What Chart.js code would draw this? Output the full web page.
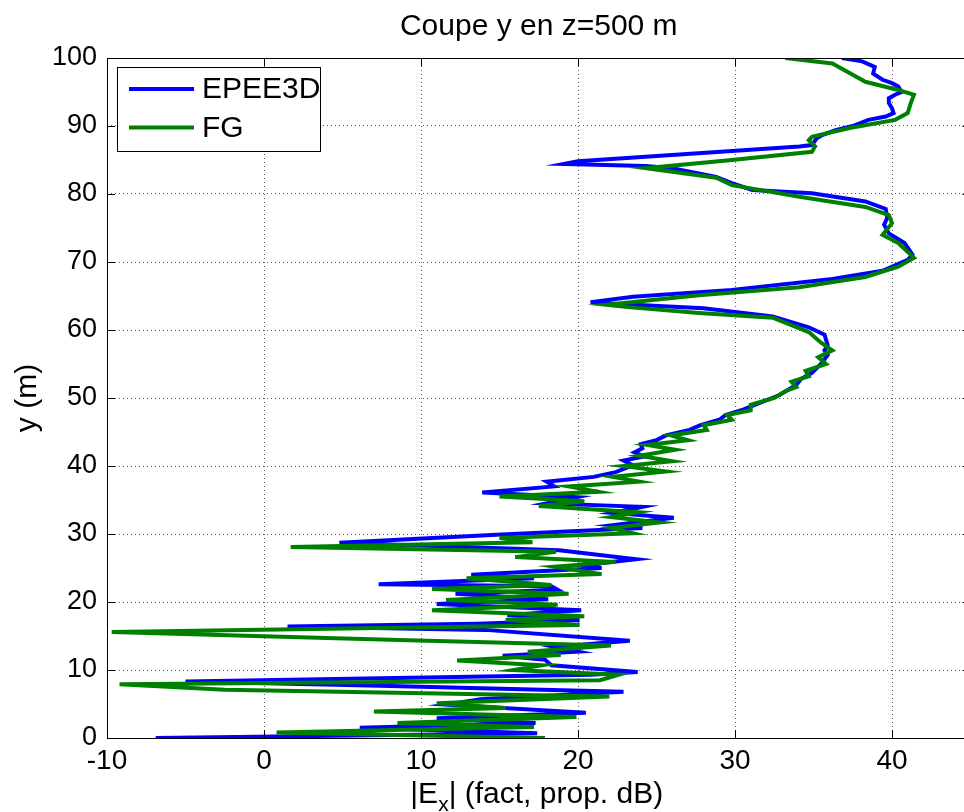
<!DOCTYPE html>
<html>
<head>
<meta charset="utf-8">
<script src="https://cdn.jsdelivr.net/npm/chart.js@4.4.0/dist/chart.umd.min.js"></script>
<style>
  html, body { margin: 0; padding: 0; overflow: hidden; background: #fff; }
  #wrap { width: 975px; height: 812px; position: relative; }
</style>
</head>
<body>
<div id="wrap"><canvas id="grafico"></canvas></div>
<script>
const titre = 'Coupe y en z=500 m';
const labelY = 'y (m)';
const labelX = ['|E', 'x', '| (fact, prop. dB)'];   // E avec indice x
const nomsSeries = ['EPEE3D', 'FG'];

const xTicks = [-10, 0, 10, 20, 30, 40];
const yTicks = [0, 10, 20, 30, 40, 50, 60, 70, 80, 90, 100];

// EPEE3D (bleu) : y en m, |Ex| en dB
const epeeY = [0.0, 0.7, 1.5, 2.2, 2.9, 3.7, 4.9, 5.7, 6.8, 7.7,
               8.3, 9.3, 9.7, 10.7, 11.5, 12.1, 12.7, 13.4, 14.3, 15.9,
               16.4, 16.8, 17.3, 18.1, 18.8, 19.7, 20.4, 21.2, 21.8, 22.3,
               22.6, 23.5, 24.0, 25.0, 25.4, 26.3, 27.6, 28.7, 29.9, 30.9,
               31.3, 32.4, 33.1, 34.0, 34.5, 35.4, 36.1, 37.0, 37.7, 38.4,
               39.1, 40.1, 40.8, 41.4, 42.0, 42.6, 43.2, 43.8, 44.5, 45.3,
               46.0, 46.8, 47.5, 48.2, 49.2, 50.4, 51.9, 52.8, 53.7, 55.1,
               56.3, 57.0, 57.8, 59.3, 60.4, 62.0, 63.2, 63.9, 64.1, 64.9,
               65.9, 67.5, 68.7, 70.3, 71.1, 72.8, 74.2, 75.5, 76.5, 77.8,
               78.9, 80.1, 80.6, 81.6, 82.5, 83.8, 84.1, 84.4, 84.8, 87.0,
               87.2, 88.2, 88.7, 89.4, 90.0, 90.9, 91.4, 91.9, 92.6, 93.4,
               94.1, 94.6, 95.0, 95.8, 96.3, 96.8, 97.7, 98.7, 99.5, 100.0];
const epeeX = [-6.9, 17.4, 6.1, 17.3, 11.0, 20.5, 11.6, 13.8, 22.9, 7.4,
               -5.0, 20.8, 23.8, 18.3, 17.9, 15.2, 20.0, 18.5, 23.3, 14.1,
               1.5, 13.6, 20.1, 15.5, 20.2, 11.0, 18.1, 12.2, 18.7, 18.3,
               7.3, 17.2, 13.2, 21.5, 20.3, 23.7, 18.8, 4.8, 14.8, 24.1,
               22.2, 26.1, 22.2, 24.1, 18.0, 19.9, 13.9, 18.5, 18.0, 21.0,
               22.4, 23.5, 22.9, 24.2, 23.6, 24.1, 24.0, 25.0, 25.6, 27.1,
               27.8, 29.0, 29.4, 30.4, 31.5, 32.8, 33.9, 34.2, 34.9, 35.5,
               35.9, 35.7, 35.9, 35.7, 34.7, 32.4, 28.0, 22.0, 20.8, 23.5,
               29.8, 36.2, 39.4, 41.0, 41.3, 40.8, 39.8, 39.5, 39.7, 39.6,
               38.3, 34.9, 31.1, 29.8, 28.8, 26.0, 24.3, 19.1, 20.0, 34.1,
               34.9, 35.2, 35.6, 36.4, 37.5, 38.5, 39.6, 40.1, 40.0, 39.8,
               39.8, 40.2, 40.6, 40.4, 40.0, 39.4, 38.8, 38.9, 38.1, 36.8];

// FG (vert)
const fgY = [0.0, 0.8, 1.6, 2.2, 3.1, 3.9, 4.4, 5.1, 6.1, 7.1,
             7.9, 8.5, 9.3, 10.0, 10.7, 11.4, 12.2, 12.7, 13.6, 14.5,
             15.6, 16.6, 17.4, 17.9, 18.8, 19.6, 20.3, 21.2, 21.9, 22.5,
             23.5, 24.1, 25.2, 25.9, 26.6, 27.4, 28.1, 28.8, 29.4, 30.1,
             30.9, 31.7, 32.5, 33.2, 34.1, 34.8, 35.5, 36.2, 37.0, 37.7,
             38.4, 39.2, 40.0, 40.7, 41.5, 42.4, 43.1, 43.8, 44.5, 45.3,
             46.0, 46.8, 47.5, 48.2, 49.0, 50.0, 51.0, 51.6, 52.4, 53.2,
             54.0, 55.0, 56.0, 57.0, 58.1, 59.7, 61.8, 62.5, 63.4, 63.7,
             65.1, 66.3, 67.8, 69.3, 70.6, 72.8, 74.0, 75.7, 76.9, 78.1,
             79.6, 81.3, 82.4, 83.8, 85.0, 86.2, 87.0, 87.9, 88.4, 89.7,
             90.9, 91.9, 93.4, 94.6, 95.3, 96.5, 97.8, 99.2, 100.0];
const fgX = [17.9, 0.8, 17.2, 8.5, 19.9, 7.0, 15.4, 11.0, 22.0, -2.5,
             -9.2, 21.4, 22.6, 15.9, 17.7, 12.3, 18.9, 16.8, 22.1, 7.4,
             -9.7, 20.1, 15.4, 20.4, 10.7, 18.7, 11.6, 19.4, 10.7, 18.3,
             12.9, 21.5, 18.5, 22.4, 16.0, 18.6, 1.7, 17.1, 15.0, 23.5,
             22.1, 25.2, 22.1, 23.8, 17.5, 20.4, 15.0, 21.3, 19.4, 23.9,
             22.2, 25.6, 22.9, 26.0, 23.9, 26.2, 24.4, 27.0, 25.9, 28.2,
             28.0, 29.8, 29.5, 31.0, 31.0, 32.5, 33.2, 33.9, 33.6, 34.7,
             34.5, 35.8, 35.3, 36.2, 35.5, 34.7, 32.4, 27.7, 23.0, 21.8,
             27.7, 34.1, 38.3, 40.4, 41.4, 40.4, 39.4, 40.0, 39.8, 38.3,
             34.1, 29.8, 28.8, 24.3, 29.8, 34.9, 35.1, 34.7, 34.9, 37.3,
             40.2, 41.0, 41.2, 41.4, 40.4, 38.3, 37.3, 36.2, 33.2];

const police = "'Liberation Sans', Arial, sans-serif";
Chart.defaults.font.family = police;
Chart.defaults.color = '#000';

function points(xs, ys) {
  return ys.map((y, i) => ({ x: xs[i], y: y }));
}

// cadre noir + petites graduations vers l'interieur (style matlab)
const cadre = {
  id: 'cadre',
  afterDatasetsDraw(chart) {
    const { ctx, chartArea: a, scales } = chart;
    const L = 8;
    ctx.save();
    ctx.strokeStyle = '#000';
    ctx.lineWidth = 1;
    ctx.beginPath();
    xTicks.forEach(v => {
      const px = Math.round(scales.x.getPixelForValue(v)) + 0.5;
      ctx.moveTo(px, a.bottom); ctx.lineTo(px, a.bottom - L);
      ctx.moveTo(px, a.top); ctx.lineTo(px, a.top + L);
    });
    yTicks.forEach(v => {
      const py = Math.round(scales.y.getPixelForValue(v)) + 0.5;
      ctx.moveTo(a.left, py); ctx.lineTo(a.left + L, py);
      ctx.moveTo(a.right, py); ctx.lineTo(a.right - L, py);
    });
    ctx.stroke();
    ctx.strokeRect(Math.round(a.left) + 0.5, Math.round(a.top) + 0.5,
                   Math.round(a.right - a.left), Math.round(a.bottom - a.top));
    ctx.restore();
  }
};

// legende dans le coin haut gauche
const legende = {
  id: 'legende',
  afterDraw(chart) {
    const ctx = chart.ctx;
    const x0 = 117, y0 = 67, w = 203, h = 84;
    ctx.save();
    ctx.fillStyle = '#fff';
    ctx.fillRect(x0, y0, w, h);
    ctx.strokeStyle = '#000';
    ctx.lineWidth = 1;
    ctx.strokeRect(x0 + 0.5, y0 + 0.5, w, h);
    ctx.font = '30px ' + police;
    ctx.textBaseline = 'middle';
    ctx.fillStyle = '#000';
    chart.data.datasets.forEach((ds, i) => {
      const yy = y0 + 22 + i * 38.5;
      ctx.strokeStyle = ds.borderColor;
      ctx.lineWidth = 4;
      ctx.beginPath();
      ctx.moveTo(x0 + 12, yy); ctx.lineTo(x0 + 77, yy);
      ctx.stroke();
      ctx.fillText(ds.label, x0 + 85, yy + 1);
    });
    ctx.restore();
  }
};

// titre de l'axe x avec indice
const titreX = {
  id: 'titreX',
  afterDraw(chart) {
    const ctx = chart.ctx, a = chart.chartArea;
    const grand = '30px ' + police, petit = '21px ' + police;
    ctx.save();
    ctx.fillStyle = '#000';
    ctx.textBaseline = 'alphabetic';
    ctx.font = grand; const w1 = ctx.measureText(labelX[0]).width;
    const w3 = ctx.measureText(labelX[2]).width;
    ctx.font = petit; const w2 = ctx.measureText(labelX[1]).width;
    let x = (a.left + a.right) / 2 - (w1 + w2 + w3) / 2 - 2;
    const base = 803;
    ctx.font = grand; ctx.fillText(labelX[0], x, base); x += w1;
    ctx.font = petit; ctx.fillText(labelX[1], x, base + 8); x += w2;
    ctx.font = grand; ctx.fillText(labelX[2], x, base);
    ctx.restore();
  }
};

const grille = {
  display: true,
  drawTicks: false,
  color: 'rgba(0,0,0,0.65)',
  lineWidth: 1
};
// en v4 les pointilles de la grille viennent de border.dash
const bord = { display: false, dash: [1, 3] };

const ctx = document.getElementById('grafico').getContext('2d');
const chart = new Chart(ctx, {
  type: 'scatter',
  data: {
    datasets: [
      {
        label: nomsSeries[0],
        data: points(epeeX, epeeY),
        borderColor: '#0000ff',
        backgroundColor: '#0000ff',
        showLine: true,
        pointRadius: 0,
        borderWidth: 4,
        tension: 0,
        order: 1
      },
      {
        label: nomsSeries[1],
        data: points(fgX, fgY),
        borderColor: '#008000',
        backgroundColor: '#008000',
        showLine: true,
        pointRadius: 0,
        borderWidth: 4,
        tension: 0,
        order: 0
      }
    ]
  },
  options: {
    responsive: true,
    maintainAspectRatio: false,
    animation: false,
    layout: { padding: { left: 0, right: 4.5, top: 0, bottom: 0 } },
    scales: {
      x: {
        type: 'linear',
        min: -10,
        max: 45,
        afterBuildTicks: s => { s.ticks = xTicks.map(v => ({ value: v })); },
        afterFit: s => { s.height = 74; },
        ticks: { font: { size: 28 }, padding: 6, maxRotation: 0, color: '#000' },
        grid: grille,
        border: bord
      },
      y: {
        type: 'linear',
        min: 0,
        max: 100,
        afterBuildTicks: s => { s.ticks = yTicks.map(v => ({ value: v })); },
        afterFit: s => { s.width = 107; },
        ticks: { font: { size: 27 }, padding: 10, color: '#000' },
        grid: grille,
        border: bord,
        title: { display: true, text: labelY, font: { size: 30 }, padding: { top: 10, bottom: 0 }, color: '#000' }
      }
    },
    plugins: {
      legend: { display: false },
      tooltip: { enabled: false },
      title: {
        display: true,
        text: titre,
        fullSize: false,
        font: { size: 30, weight: 'normal' },
        color: '#000',
        padding: { top: 9, bottom: 13 }
      }
    }
  },
  plugins: [cadre, legende, titreX]
});
</script>
</body>
</html>
